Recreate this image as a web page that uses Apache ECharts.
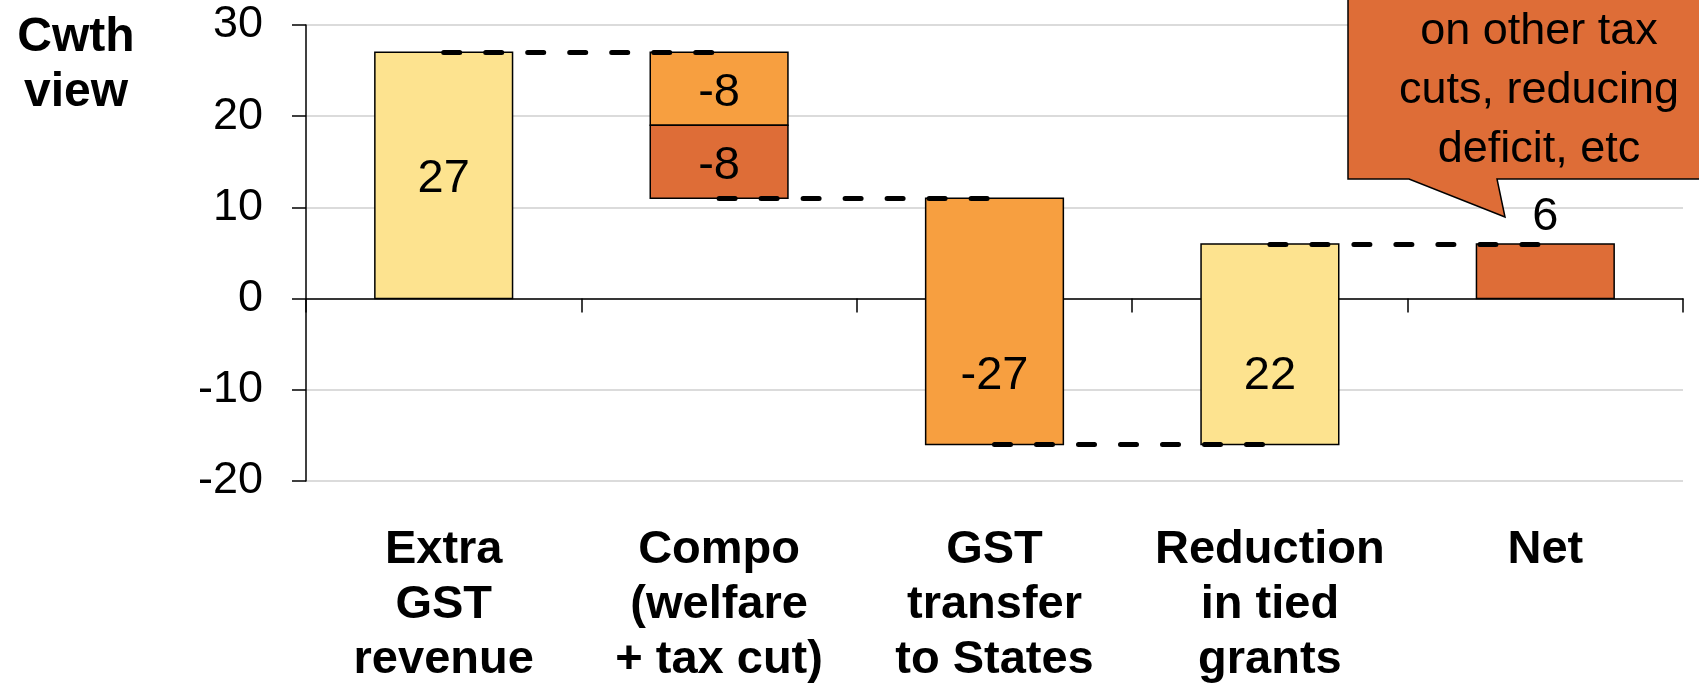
<!DOCTYPE html>
<html>
<head>
<meta charset="utf-8">
<script src="https://cdn.jsdelivr.net/npm/echarts@6/dist/echarts.min.js"></script>
<style>
  html, body { margin: 0; padding: 0; background: #fff; }
  #chart { width: 1699px; height: 688px; }
</style>
</head>
<body>
<div id="chart"></div>
<script>
const categories = ['Extra\nGST\nrevenue', 'Compo\n(welfare\n+ tax cut)', 'GST\ntransfer\nto States', 'Reduction\nin tied\ngrants', 'Net']
const yTicks = { min: -20, max: 30, interval: 10 }

// one entry per floating block of the waterfall
const segCategory = [0, 1, 1, 2, 3, 4]
const segFrom = [0, 27, 19, 11, -16, 0]
const segTo = [27, 19, 11, -16, 6, 6]
const segKind = ['gain', 'welfare', 'taxcut', 'transfer', 'grants', 'net']

// dashed connectors: from category, to category, level
const connFrom = [0, 1, 2, 3]
const connTo = [1, 2, 3, 4]
const connLevel = [27, 11, -16, 6]

const calloutLines = ['Money', 'on other tax', 'cuts, reducing', 'deficit, etc']

const kindColor = {
  gain: '#FDE38F',
  grants: '#FDE38F',
  welfare: '#F79F40',
  transfer: '#F79F40',
  taxcut: '#DE6D37',
  net: '#DE6D37',
}
const labelAbove = ['net']
const FONT = '"Liberation Sans", Arial, sans-serif'

const chart = echarts.init(document.getElementById('chart'))

chart.setOption({
  animation: false,
  grid: { left: 306, right: 16, top: 25, bottom: 206, containLabel: false },
  xAxis: [
    {
      type: 'category',
      data: categories,
      position: 'bottom',
      axisLine: { onZero: true, lineStyle: { color: '#000', width: 1.5 } },
      axisTick: { show: true, length: 14, lineStyle: { color: '#000', width: 1.5 } },
      axisLabel: { show: false },
      splitLine: { show: false },
    },
    {
      type: 'category',
      data: categories,
      position: 'bottom',
      axisLine: { show: false, onZero: false },
      axisTick: { show: false },
      axisLabel: {
        interval: 0,
        margin: 42,
        color: '#000',
        fontFamily: FONT,
        fontWeight: 'bold',
        fontSize: 47,
        lineHeight: 55,
      },
    },
  ],
  yAxis: {
    type: 'value',
    min: yTicks.min,
    max: yTicks.max,
    interval: yTicks.interval,
    axisLine: { show: true, lineStyle: { color: '#000', width: 1.5 } },
    axisTick: { show: true, length: 14, lineStyle: { color: '#000', width: 1.5 } },
    axisLabel: { margin: 43, color: '#000', fontFamily: FONT, fontSize: 45 },
    splitLine: { lineStyle: { color: '#CFCFCF', width: 1.5 } },
  },
  graphic: [
    {
      type: 'text',
      x: 76,
      y: 10,
      style: {
        text: 'Cwth\nview',
        align: 'center',
        verticalAlign: 'top',
        font: 'bold 48px ' + FONT,
        lineHeight: 55,
        fill: '#000',
      },
    },
    {
      type: 'polygon',
      z: 100,
      shape: {
        points: [[1348, -5], [1720, -5], [1720, 179], [1497, 179], [1505, 217], [1409, 179], [1348, 179]],
      },
      style: { fill: '#DE6D37', stroke: '#000', lineWidth: 1.5 },
    },
    {
      type: 'text',
      z: 101,
      x: 1539,
      y: -57,
      style: {
        text: calloutLines.join('\n'),
        align: 'center',
        verticalAlign: 'top',
        font: '45px ' + FONT,
        lineHeight: 59,
        fill: '#000',
      },
    },
  ],
  series: [
    {
      type: 'custom',
      xAxisIndex: 0,
      encode: { x: 0, y: [1, 2] },
      data: segCategory.map((c, i) => [c, segFrom[i], segTo[i]]),
      renderItem(params, api) {
        const cat = api.value(0)
        const from = api.value(1)
        const to = api.value(2)
        const lo = Math.min(from, to)
        const hi = Math.max(from, to)
        const kind = segKind[params.dataIndex]
        const w = api.size([1, 0])[0] * 0.5
        const top = api.coord([cat, hi])
        const bot = api.coord([cat, lo])
        const mid = lo < 0 && hi > 0 ? lo / 2 : (lo + hi) / 2
        const above = labelAbove.includes(kind)
        const lp = above ? api.coord([cat, hi]) : api.coord([cat, mid])
        return {
          type: 'group',
          children: [
            {
              type: 'rect',
              shape: { x: top[0] - w / 2, y: top[1], width: w, height: bot[1] - top[1] },
              style: { fill: kindColor[kind], stroke: '#000', lineWidth: 1.5 },
            },
            {
              type: 'text',
              style: {
                text: String(to - from),
                x: lp[0],
                y: above ? lp[1] - 3 : lp[1] + 4,
                align: 'center',
                verticalAlign: above ? 'bottom' : 'middle',
                font: '47px ' + FONT,
                fill: '#000',
              },
            },
          ],
        }
      },
      markLine: {
        silent: true,
        symbol: 'none',
        label: { show: false },
        lineStyle: { color: '#000', width: 5, type: [16, 26], cap: 'round' },
        data: connLevel.map((v, i) => [{ coord: [connFrom[i], v] }, { coord: [connTo[i], v] }]),
      },
    },
  ],
})
</script>
</body>
</html>
